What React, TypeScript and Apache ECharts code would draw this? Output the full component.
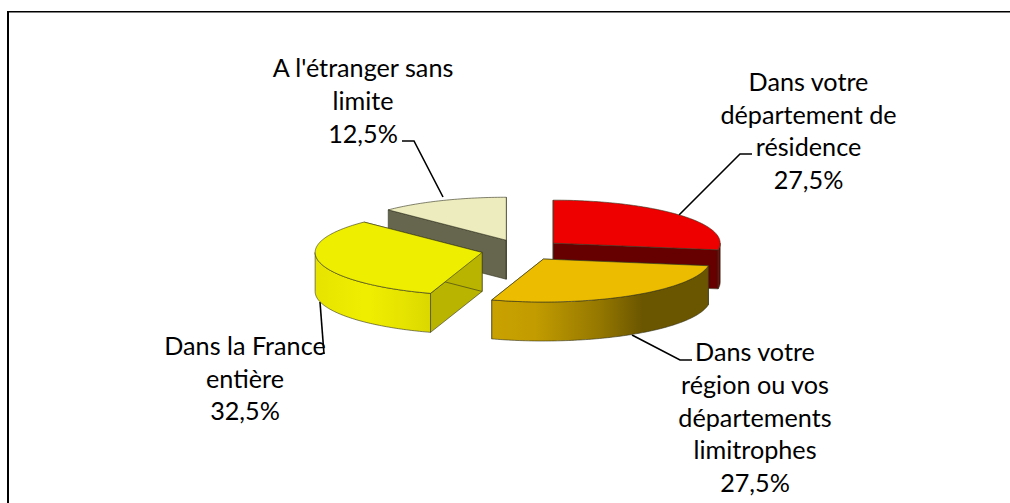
import React, { useEffect, useRef } from "react";
import * as echarts from "echarts";

const categories = [
  "Dans votre\ndépartement de\nrésidence",
  "Dans votre\nrégion ou vos\ndépartements\nlimitrophes",
  "Dans la France\nentière",
  "A l'étranger sans\nlimite",
];
const shares = [27.5, 27.5, 32.5, 12.5];
const topColors = ["#ee0000", "#ebbc00", "#eeee00", "#ececbe"];
const cutColors = ["#660000", "#6a5500", "#b8b400", "#66664f"];
const rimStops: [number, string][][] = [
  [[0, "#660000"], [1, "#660000"]],
  [[0, "#c9a200"], [0.2, "#c29c00"], [0.5, "#947700"], [0.7, "#6a5500"], [1, "#6a5500"]],
  [[0, "#e6e400"], [0.45, "#f0ee00"], [0.8, "#e4e200"], [1, "#dad700"]],
  [[0, "#66664f"], [1, "#66664f"]],
];
const drawOrder = [2, 3, 1, 0]; // z2 per slice: orange in front, then red, yellow, cream

const labelPositions = [
  { x: 808.5, y: 130 },
  { x: 755, y: 416.5 },
  { x: 245, y: 377.5 },
  { x: 363, y: 100 },
];
const leaders = [
  [[752, 154], [740, 154], [679, 215]],
  [[692, 360], [680, 360], [632, 335]],
  [[320, 302], [324, 354]],
  [[402, 141], [414, 141], [443, 197]],
];

const CX = 522, CY = 250, RX = 167, RY = 43, DEPTH = 39, EXPLODE = 41;
const EDGE = "rgba(50,50,30,0.75)";

function formatShare(v: number) {
  return v.toFixed(1).replace(".", ",") + "%";
}

function renderSlice(params: any, api: any) {
  const i = params.dataIndex;
  const total = shares.reduce((a, b) => a + b, 0);
  const start = (shares.slice(0, i).reduce((a, b) => a + b, 0) / total) * 360;
  const end = start + (api.value(0) / total) * 360;
  const mid = ((start + end) / 2) * (Math.PI / 180);
  const ax = CX + EXPLODE * Math.sin(mid);
  const ay = CY - EXPLODE * Math.cos(mid) * (RY / RX);
  const pt = (deg: number, dy = 0): number[] => {
    const r = (deg * Math.PI) / 180;
    return [ax + RX * Math.sin(r), ay - RY * Math.cos(r) + dy];
  };
  const arc = (from: number, to: number, dy = 0) => {
    const out: number[][] = [];
    const n = Math.max(1, Math.ceil(Math.abs(to - from)));
    for (let k = 0; k <= n; k++) out.push(pt(from + ((to - from) * k) / n, dy));
    return out;
  };
  const z2 = drawOrder[i] * 10;
  const children: any[] = [];
  const cut = (deg: number, z: number) =>
    children.push({
      type: "polygon",
      z2: z,
      shape: { points: [[ax, ay], pt(deg), pt(deg, DEPTH), [ax, ay + DEPTH]] },
      style: { fill: cutColors[i], stroke: EDGE, lineWidth: 0.8 },
    });
  cut(start, z2);
  cut(end, z2 + 1);
  const rimFrom = Math.max(start, 90);
  const rimTo = Math.min(end, 270);
  if (rimTo > rimFrom) {
    children.push({
      type: "polygon",
      z2: z2 + 2,
      shape: { points: [...arc(rimFrom, rimTo), ...arc(rimTo, rimFrom, DEPTH)] },
      style: {
        fill: new echarts.graphic.LinearGradient(
          0, 0, 1, 0,
          rimStops[i].map(([offset, color]) => ({ offset, color }))
        ),
        stroke: EDGE,
        lineWidth: 0.8,
      },
    });
  }
  children.push({
    type: "polygon",
    z2: z2 + 3,
    shape: { points: [[ax, ay], ...arc(start, end)] },
    style: { fill: topColors[i], stroke: EDGE, lineWidth: 0.8 },
  });
  return { type: "group", children };
}

export default function App() {
  const ref = useRef<HTMLDivElement>(null);
  useEffect(() => {
    document.body.style.margin = "0";
    const chart = echarts.init(ref.current!, null, { renderer: "svg" });
    chart.setOption({
      animation: false,
      backgroundColor: "#ffffff",
      graphic: [
        { type: "rect", z: 1, shape: { x: 7, y: 11, width: 1003, height: 1.5 }, style: { fill: "#000" } },
        { type: "rect", z: 1, shape: { x: 7, y: 11, width: 2, height: 492 }, style: { fill: "#000" } },
        ...leaders.map((points) => ({
          type: "polyline",
          z: 1,
          shape: { points },
          style: { stroke: "#000", lineWidth: 1.6, fill: "none" },
        })),
        ...categories.map((c, i) => ({
          type: "text",
          z: 20,
          x: labelPositions[i].x,
          y: labelPositions[i].y,
          style: {
            text: c + "\n" + formatShare(shares[i]),
            fontFamily: "Lato",
            fontSize: 25.2,
            lineHeight: 32.6,
            fill: "#000",
            align: "center",
            verticalAlign: "middle",
          },
        })),
      ],
      series: [
        {
          type: "custom",
          coordinateSystem: "none",
          z: 5,
          silent: true,
          data: shares,
          renderItem: renderSlice,
        },
      ],
    });
    return () => chart.dispose();
  }, []);
  return <div ref={ref} style={{ width: 1010, height: 503 }} />;
}
